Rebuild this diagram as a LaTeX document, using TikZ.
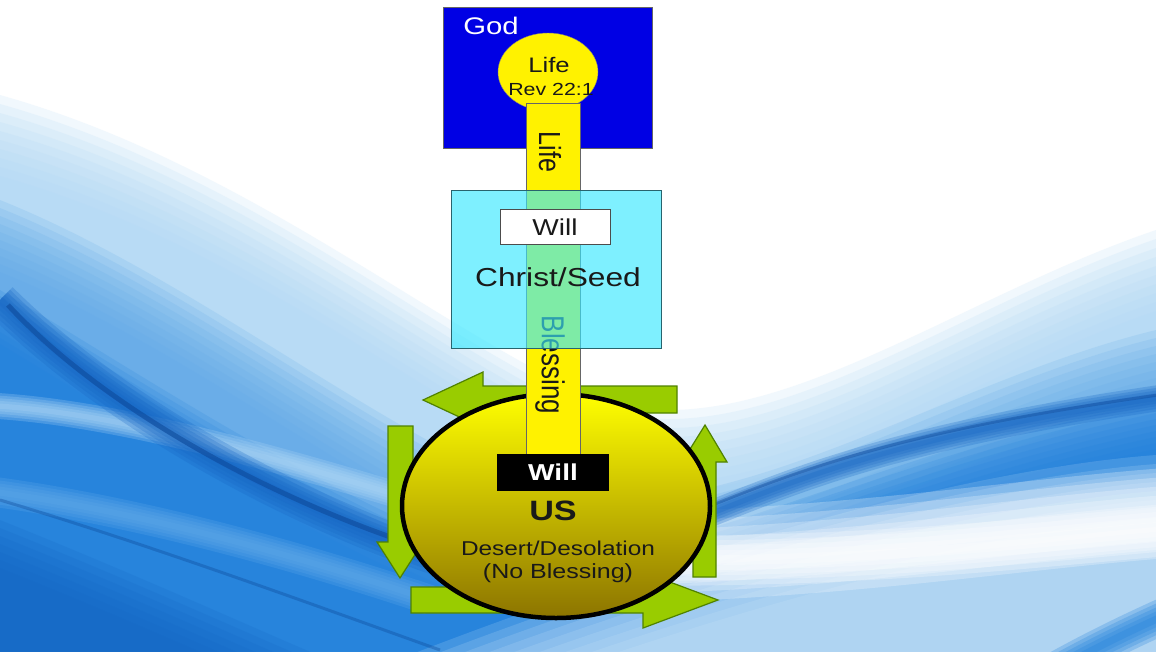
\documentclass[tikz,border=0pt]{standalone}
\usepackage{fontspec}
\setmainfont{Liberation Sans}[FakeStretch=1.22]
\newfontfamily\rotfont{Liberation Sans}
\usepackage{graphicx}
\usetikzlibrary{shapes.geometric}
\definecolor{godblue}{RGB}{0,0,228}
\definecolor{seedcyan}{RGB}{57,232,255}
\definecolor{seededge}{RGB}{40,100,110}
\definecolor{arrowgreen}{RGB}{153,204,0}
\definecolor{arrowedge}{RGB}{80,130,0}
\definecolor{usbottom}{RGB}{140,116,0}
\definecolor{usmid}{RGB}{238,228,0}
\definecolor{bgPale}{RGB}{175,215,245}
\definecolor{bgLight}{RGB}{210,233,250}
\definecolor{bgMid}{RGB}{95,168,232}
\definecolor{bgSat}{RGB}{30,128,220}
\definecolor{bgDark}{RGB}{20,100,195}
\definecolor{bgDeep}{RGB}{12,70,150}
\definecolor{textdark}{RGB}{25,25,25}
\newcommand\softfill[4]{%
  \foreach \k in {0,...,#3}{\fill[#1, opacity=0.17, yshift={-\k*#2 pt}] #4;}}
\newcommand\softband[3]{%
  \foreach \f in {1,0.8,0.6,0.4,0.2}{\draw[#1, line width={\f*#2pt}, opacity=0.25, line cap=butt] #3;}}
\begin{document}
\begin{tikzpicture}[x=1pt,y=-1pt,
  blockarrow/.style={fill=arrowgreen, draw=arrowedge, line width=1.2pt, line join=miter},
  plainbox/.style={inner sep=0pt, outer sep=0pt},
  lbl/.style={inner sep=0pt, anchor=base, text=textdark},
  rotlbl/.style={inner sep=0pt, rotate=-90, text=textdark}]
% ---------- background ----------
\useasboundingbox (0,0) rectangle (1156,651);
\fill[white] (0,0) rectangle (1156,651);
\begin{scope}
\clip (0,0) rectangle (1156,651);
\softfill{bgPale}{9}{9}{(0,95) .. controls (250,165) and (450,340) .. (600,400) .. controls (760,450) and (950,300) .. (1156,230) -- (1156,800) -- (0,800) -- cycle}
\softfill{bgMid}{8}{9}{(0,200) .. controls (200,280) and (400,450) .. (560,500) .. controls (750,520) and (950,380) .. (1156,330) -- (1156,800) -- (0,800) -- cycle}
\softfill{bgSat}{6}{9}{(0,290) .. controls (150,380) and (330,500) .. (500,560) .. controls (650,580) and (850,460) .. (1156,395) -- (1156,800) -- (0,800) -- cycle}
% lighter lower right and bottom centre
\softfill{bgLight}{9}{8}{(250,720) .. controls (600,570) and (950,470) .. (1156,455) -- (1156,800) -- (250,800) -- cycle}
\softfill{bgDark}{8}{6}{(0,520) .. controls (150,580) and (280,640) .. (330,660) -- (0,660) -- cycle}
% light streaks on the left
\softband{bgPale}{26}{(-20,405) .. controls (100,410) and (250,450) .. (430,505)}
\softband{bgMid}{30}{(-20,490) .. controls (100,505) and (250,540) .. (430,600)}
% highlight on the right
\softband{white}{90}{(560,560) .. controls (850,555) and (1000,525) .. (1180,512)}
\softband{white}{50}{(560,560) .. controls (850,565) and (1000,545) .. (1180,530)}
\softband{bgSat}{36}{(1020,690) .. controls (1080,655) and (1130,630) .. (1200,600)}
% dark swoosh lines
\softband{bgDark}{36}{(0,300) .. controls (100,400) and (280,510) .. (470,568)}
\draw[bgDeep, line width=5pt, opacity=0.55] (8,305) .. controls (100,405) and (280,510) .. (470,562);
\draw[bgDeep, line width=3pt, opacity=0.35] (0,500) .. controls (150,545) and (300,600) .. (440,650);
\softband{bgDark}{26}{(690,522) .. controls (800,478) and (900,435) .. (1180,395)}
\draw[bgDeep, line width=3pt, opacity=0.4] (700,510) .. controls (800,470) and (900,430) .. (1180,392);
\end{scope}
% ---------- God ----------
\node[plainbox, draw=black!60, fill=godblue, minimum width=209pt, minimum height=141pt] (god) at (547.5,77.5) {};
\node[lbl, text=white, font=\fontsize{24}{28}\selectfont] (godlabel) at (491,34) {God};
\node[ellipse, plainbox, draw=black!50, fill=yellow, minimum width=100pt, minimum height=78pt] (life) at (548,72) {};
\node[lbl, font=\fontsize{21}{24}\selectfont] (lifelabel) at (549,72) {Life};
\node[lbl, font=\fontsize{17.5}{20}\selectfont] (revlabel) at (551,95) {Rev 22:1};
% ---------- circular arrows ----------
\path[blockarrow] (677,386) -- (483,386) -- (483,372) -- (423,400) -- (483,428) -- (483,413) -- (677,413) -- cycle;
\path[blockarrow] (388,426) -- (388,542) -- (377,542) -- (400,578) -- (423,542) -- (413,542) -- (413,426) -- cycle;
\path[blockarrow] (411,587) -- (643,587) -- (643,572) -- (718,600) -- (643,628) -- (643,613) -- (411,613) -- cycle;
\path[blockarrow] (693,577) -- (693,462) -- (682,462) -- (705,425) -- (727,462) -- (716,462) -- (716,577) -- cycle;
% ---------- US ----------
\node[ellipse, plainbox, draw=black, line width=4.5pt, top color=yellow, middle color=usmid, bottom color=usbottom, minimum width=308pt, minimum height=224pt] (us) at (556,506) {};
% ---------- channel ----------
\node[plainbox, draw=black!60, fill=yellow, minimum width=54pt, minimum height=352pt] (bar) at (553,279) {};
\node[rotlbl] (lifeflow) at (550,152) {\rotfont\fontsize{25}{28}\selectfont\scalebox{1}[1.22]{Life}};
\node[rotlbl] (blessing) at (550,365) {\rotfont\fontsize{26}{30}\selectfont\scalebox{1}[1.22]{Blessing}};
% ---------- Christ / Seed ----------
\node[plainbox, draw=seededge, fill=seedcyan, fill opacity=0.65, minimum width=210pt, minimum height=158pt] (seed) at (556,269) {};
\node[plainbox, draw=black!70, fill=white, minimum width=110pt, minimum height=35pt] (seedwillbox) at (555,226.5) {};
\node[lbl, font=\fontsize{23}{26}\selectfont] (seedwill) at (555,235) {Will};
\node[lbl, font=\fontsize{26}{30}\selectfont] (seedlabel) at (558,286) {Christ/Seed};
% ---------- US labels ----------
\node[plainbox, draw=black, fill=black, minimum width=111pt, minimum height=36pt] (uswillbox) at (552.5,472) {};
\node[lbl, text=white, font=\bfseries\fontsize{23}{26}\selectfont] (uswill) at (553,480) {Will};
\node[lbl, font=\bfseries\fontsize{28}{32}\selectfont] (uslabel) at (553,520) {US};
\node[lbl, font=\fontsize{20}{24}\selectfont] (desert) at (558,555) {Desert/Desolation};
\node[lbl, font=\fontsize{20.5}{24}\selectfont] (noblessing) at (558,578) {(No Blessing)};
\end{tikzpicture}
\end{document}
